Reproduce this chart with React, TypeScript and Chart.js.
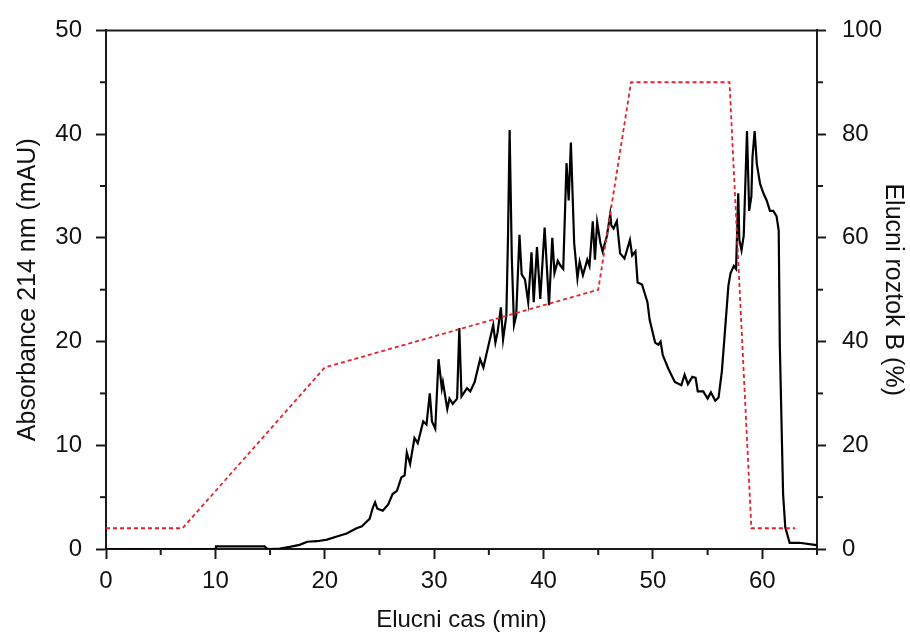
import React, { useEffect, useRef } from 'react';
import { Chart, registerables } from 'chart.js';

Chart.register(...registerables);

// Elution time (min) of the absorbance trace
const timeMin = [
  0, 10, 10.05, 14.5, 14.7, 15, 15.9, 16.8, 17.7, 18.4, 19.3, 20.2, 21.1, 22, 22.9, 23.4, 23.7, 24.1,
  24.4, 24.6, 24.8, 25.0, 25.3, 25.8, 26.2, 26.6, 27.0, 27.3, 27.5, 27.8, 28.2, 28.5, 29.0, 29.3,
  29.6, 29.8, 30.1, 30.4, 30.7, 30.8, 31.2, 31.4, 31.7, 32.1, 32.3, 32.5, 33.0, 33.3, 33.7, 34.2,
  34.5, 35.0, 35.4, 35.6, 35.8, 36.1, 36.3, 36.6, 36.75, 36.9, 37.1, 37.3, 37.5, 37.8, 38.0, 38.1,
  38.3, 38.6, 38.9, 39.1, 39.4, 39.7, 40.1, 40.5, 40.8, 41.0, 41.3, 41.5, 41.8, 42.1, 42.3, 42.5,
  42.8, 43.1, 43.3, 43.6, 44.0, 44.2, 44.5, 44.7, 44.9, 45.2, 45.4, 45.8, 46.1, 46.2, 46.4, 46.7,
  47.0, 47.4, 47.9, 48.1, 48.4, 48.6, 49.0, 49.5, 49.7, 50.2, 50.5, 50.7, 50.9, 51.4, 52.0, 52.6,
  52.9, 53.2, 53.6, 53.9, 54.1, 54.6, 55.0, 55.3, 55.7, 56.0, 56.3, 56.6, 56.9, 57.1, 57.4, 57.6,
  57.8, 57.9, 58.1, 58.3, 58.6, 58.8, 59.0, 59.1, 59.3, 59.5, 59.8, 60.1, 60.4, 60.7, 61.0, 61.3,
  61.5, 61.6, 61.9, 62.1, 62.5, 63.4, 64.8, 65
];

// Absorbance at 214 nm (mAU)
const absorbance = [
  0, 0, 0.25, 0.25, 0.05, 0, 0.05, 0.2, 0.4, 0.7, 0.75, 0.9, 1.2, 1.5, 2.0, 2.2, 2.5, 2.9,
  4.0, 4.5, 3.9, 3.8, 3.7, 4.3, 5.3, 5.6, 6.9, 7.1, 9.3, 8.2, 10.7, 10.2, 12.3, 12.0,
  15.0, 12.3, 11.6, 18.3, 15.5, 16.1, 13.5, 14.5, 14.0, 14.5, 21.3, 14.7, 15.5, 15.2, 16.1, 18.3,
  17.5, 19.8, 21.6, 19.9, 20.9, 23.3, 20.2, 22.5, 30, 40.4, 28, 21.6, 22.5, 30.3, 26.5, 26.3,
  26, 23.8, 28.6, 23.8, 29.1, 24.1, 31.0, 23.5, 30.0, 26.6, 27.8, 27.4, 27, 37.2, 33.6, 39.2,
  29.5, 26.1, 27.7, 26.4, 27.9, 27.3, 31.6, 27.9, 31.5, 29.5, 28.7, 30.2, 32.3, 31.2, 30.9, 31.6,
  28.5, 28.0, 29.8, 28.3, 28.7, 25.7, 25.5, 23.8, 22.1, 19.9, 19.7, 20.0, 18.7, 17.4, 16.1, 15.8,
  16.8, 15.9, 16.6, 16.5, 15.2, 15.2, 14.5, 15.1, 14.3, 14.6, 17.1, 21.2, 25.4, 26.6, 27.3, 27.0,
  34.3, 29.8, 28.8, 30.2, 40.3, 32.6, 34.0, 37.8, 40.3, 37.1, 35.2, 34.3, 33.6, 32.6, 32.6, 32.1,
  30.7, 19.7, 5.3, 2.1, 0.6, 0.6, 0.4, 0.35
];

// Gradient program: solvent B (%)
const gradientTime = [0, 7, 20, 45, 48, 57, 59, 63];
const gradientB = [4, 4, 35, 50, 90, 90, 4, 4];

const xTitle = 'Elucni cas (min)';
const yTitle = 'Absorbance 214 nm (mAU)';
const y2Title = 'Elucni roztok B (%)';

const AXIS = '#1a1a1a';
const FONT = "'Liberation Sans', Arial, Helvetica, sans-serif";

const minorTicksPlugin = {
  id: 'minorTicks',
  afterDraw(chart: any) {
    const ctx = chart.ctx;
    const ca = chart.chartArea;
    const { x, y, y2 } = chart.scales;
    ctx.save();
    ctx.strokeStyle = AXIS;
    ctx.lineWidth = 2;
    const seg = (x1: number, y1: number, x2: number, yy2: number) => {
      ctx.beginPath();
      ctx.moveTo(x1, y1);
      ctx.lineTo(x2, yy2);
      ctx.stroke();
    };
    // top frame line
    seg(ca.left - 1, ca.top, ca.right + 1, ca.top);
    x.ticks.forEach((t: any) => {
      if (t.value % 10 !== 0) {
        const p = x.getPixelForValue(t.value);
        seg(p, ca.bottom, p, ca.bottom + 6);
      }
    });
    y.ticks.forEach((t: any) => {
      if (t.value % 10 !== 0) {
        const p = y.getPixelForValue(t.value);
        seg(ca.left, p, ca.left - 6, p);
      }
    });
    y2.ticks.forEach((t: any) => {
      if (t.value % 20 !== 0) {
        const p = y2.getPixelForValue(t.value);
        seg(ca.right, p, ca.right + 6, p);
      }
    });
    ctx.restore();
  },
};

export default function App() {
  const canvasRef = useRef<HTMLCanvasElement | null>(null);

  useEffect(() => {
    const canvas = canvasRef.current;
    if (!canvas) return;
    const trace = timeMin.map((t, i) => ({ x: t, y: absorbance[i] }));
    const grad = gradientTime.map((t, i) => ({ x: t, y: gradientB[i] }));

    const chart = new Chart(canvas, {
      type: 'line',
      data: {
        datasets: [
          {
            label: 'Solvent B',
            data: grad,
            yAxisID: 'y2',
            borderColor: '#e3232c',
            borderWidth: 1.8,
            borderDash: [4, 3],
            pointRadius: 0,
            fill: false,
            tension: 0,
            order: 0,
          },
          {
            label: 'A214',
            data: trace,
            yAxisID: 'y',
            borderColor: '#000000',
            borderWidth: 2.2,
            pointRadius: 0,
            fill: false,
            tension: 0,
            order: 1,
          },
        ],
      },
      options: {
        responsive: false,
        animation: false,
        devicePixelRatio: 1,
        parsing: false as any,
        layout: { padding: { top: 25, left: 0, right: 0, bottom: 0 } },
        plugins: {
          legend: { display: false },
          tooltip: { enabled: false },
        },
        scales: {
          x: {
            type: 'linear',
            position: 'bottom',
            min: 0,
            max: 65,
            afterFit: (s: any) => { s.height = 92; },
            ticks: {
              stepSize: 5,
              autoSkip: false,
              maxRotation: 0,
              padding: 8,
              color: '#111',
              font: { family: FONT, size: 24 },
              callback: (v: any) => (Number(v) % 10 === 0 ? String(v) : ''),
            },
            grid: {
              drawOnChartArea: false,
              tickLength: 10,
              tickWidth: 2,
              tickColor: (c: any) => (c.tick && c.tick.value % 10 === 0 ? AXIS : 'rgba(0,0,0,0)'),
            },
            border: { display: true, color: AXIS, width: 2 },
            title: {
              display: true,
              text: xTitle,
              color: '#111',
              font: { family: FONT, size: 24 },
              padding: { top: 0, bottom: 6 },
            },
          },
          y: {
            type: 'linear',
            position: 'left',
            min: 0,
            max: 50,
            afterFit: (s: any) => { s.width = 106; },
            ticks: {
              stepSize: 5,
              autoSkip: false,
              padding: 14,
              color: '#111',
              font: { family: FONT, size: 24 },
              callback: (v: any) => (Number(v) % 10 === 0 ? String(v) : ''),
            },
            grid: {
              drawOnChartArea: false,
              tickLength: 10,
              tickWidth: 2,
              tickColor: (c: any) => (c.tick && c.tick.value % 10 === 0 ? AXIS : 'rgba(0,0,0,0)'),
            },
            border: { display: true, color: AXIS, width: 2 },
            title: {
              display: true,
              text: yTitle,
              color: '#111',
              font: { family: FONT, size: 25 },
              padding: { top: 13, bottom: 0 },
            },
          },
          y2: {
            type: 'linear',
            position: 'right',
            min: 0,
            max: 100,
            afterFit: (s: any) => { s.width = 93; },
            ticks: {
              stepSize: 10,
              autoSkip: false,
              padding: 16,
              color: '#111',
              font: { family: FONT, size: 24 },
              callback: (v: any) => (Number(v) % 20 === 0 ? String(v) : ''),
            },
            grid: {
              drawOnChartArea: false,
              tickLength: 9,
              tickWidth: 2,
              tickColor: (c: any) => (c.tick && c.tick.value % 20 === 0 ? AXIS : 'rgba(0,0,0,0)'),
            },
            border: { display: true, color: AXIS, width: 2 },
            title: {
              display: true,
              text: y2Title,
              color: '#111',
              font: { family: FONT, size: 25 },
              padding: { top: 2, bottom: 0 },
            },
          },
        },
      },
      plugins: [minorTicksPlugin],
    } as any);

    return () => {
      chart.destroy();
    };
  }, []);

  return (
    <div
      style={{
        position: 'fixed',
        left: 0,
        top: 0,
        width: 910,
        height: 641,
        background: '#ffffff',
      }}
    >
      <canvas ref={canvasRef} width={910} height={641} style={{ display: 'block' }} />
    </div>
  );
}
